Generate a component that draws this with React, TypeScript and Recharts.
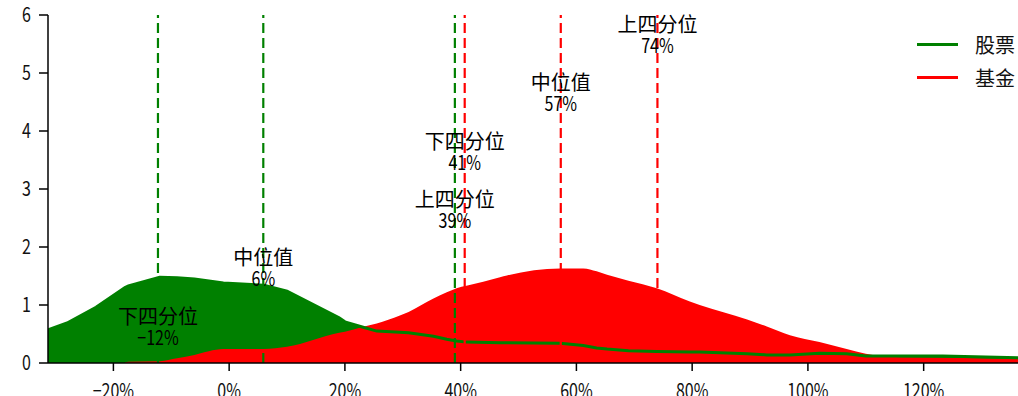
import {
  ComposedChart,
  Area,
  Line,
  XAxis,
  YAxis,
  ReferenceLine,
  ReferenceDot,
} from "recharts";

// return grid (shared by both densities)
const returns = [
  -0.313, -0.28, -0.23, -0.18, -0.174, -0.12, -0.09, -0.06, -0.01, 0.06, 0.1, 0.19, 0.2, 0.23,
  0.255, 0.295, 0.31, 0.353, 0.376, 0.393, 0.41, 0.468, 0.48, 0.572, 0.612, 0.635, 0.653, 0.69,
  0.739, 0.796, 0.813, 0.895, 0.929, 0.969, 1.02, 1.067, 1.1, 1.159, 1.233, 1.363,
];

const stockDensity = [
  0.57, 0.69, 0.96, 1.3, 1.33, 1.48, 1.47, 1.45, 1.38, 1.34, 1.24, 0.78, 0.71, 0.62,
  0.55, 0.53, 0.52, 0.46, 0.41, 0.38, 0.36, 0.35, 0.35, 0.34, 0.3, 0.26, 0.24, 0.21,
  0.2, 0.19, 0.19, 0.16, 0.14, 0.14, 0.17, 0.16, 0.12, 0.12, 0.12, 0.09,
];

const fundDensity = [
  null, null, null, 0.01, 0.02, 0.03, 0.08, 0.14, 0.24, 0.24, 0.28, 0.52, 0.54, 0.62,
  0.68, 0.82, 0.88, 1.11, 1.22, 1.29, 1.33, 1.48, 1.51, 1.63, 1.63, 1.58, 1.52, 1.42,
  1.29, 1.06, 1.0, 0.75, 0.63, 0.48, 0.36, 0.24, 0.16, 0.1, 0.09, 0.07,
];

const xTicks = [-0.2, 0, 0.2, 0.4, 0.6, 0.8, 1.0, 1.2];
const yTicks = [0, 1, 2, 3, 4, 5, 6];

const quartileNames = ["下四分位", "中位值", "上四分位"];
const stockQuartiles = [-0.123, 0.059, 0.39];
const fundQuartiles = [0.407, 0.573, 0.74];
const stockLabelLevels = [0.8, 1.81, 2.81];
const fundLabelLevels = [3.81, 4.82, 5.83];

const legendNames = ["股票", "基金"];

const GREEN = "#008000";
const RED = "#ff0000";
const FONT = '"Noto Sans CJK SC", "Noto Sans", sans-serif';

const data = returns.map((x, i) => ({
  x,
  stock: stockDensity[i],
  fund: fundDensity[i],
}));

const pct = (v: number) => `${Math.round(v * 100)}%`.replace("-", "−");

function XTick({ x, y, payload }: any) {
  return (
    <g transform={`translate(${x},${y}) scale(0.8,1)`}>
      <text x={0} y={0} dy="0.71em" textAnchor="middle" fontSize={20} fontFamily={FONT} fill="#111">
        {pct(payload.value)}
      </text>
    </g>
  );
}

function YTick({ x, y, payload }: any) {
  return (
    <g transform={`translate(${x},${y}) scale(0.8,1)`}>
      <text x={0} y={0} dy="0.355em" textAnchor="end" fontSize={20} fontFamily={FONT} fill="#111">
        {payload.value}
      </text>
    </g>
  );
}

function QuartileLabel(name: string, value: number) {
  return (props: any) => {
    const { cx, cy } = props;
    return (
      <g>
        <text x={cx} y={cy} dy="0.35em" textAnchor="middle" fontSize={20} fontFamily={FONT} fill="#000">
          {name}
        </text>
        <g transform={`translate(${cx},${cy + 21}) scale(0.8,1)`}>
          <text x={0} y={0} dy="0.35em" textAnchor="middle" fontSize={20} fontFamily={FONT} fill="#000">
            {pct(value)}
          </text>
        </g>
      </g>
    );
  };
}

function LegendBox() {
  const colors = [GREEN, RED];
  return (
    <div style={{ position: "absolute", left: 917, top: 28, fontFamily: FONT, fontSize: 20 }}>
      {legendNames.map((name, i) => (
        <div key={name} style={{ display: "flex", alignItems: "center", height: 33 }}>
          <div style={{ width: 41, height: 2.5, background: colors[i], marginRight: 17 }} />
          <span style={{ color: "#111", lineHeight: "33px" }}>{name}</span>
        </div>
      ))}
    </div>
  );
}

export default function App() {
  return (
    <div style={{ position: "absolute", left: 0, top: 0, width: 1018, height: 396, background: "#fff" }}>
      <ComposedChart width={1018} height={396} data={data} margin={{ top: 15, right: 0, bottom: 0, left: 0 }}>
        <XAxis
          dataKey="x"
          type="number"
          domain={[-0.313, 1.363]}
          allowDataOverflow
          ticks={xTicks}
          height={33}
          tick={<XTick />}
          tickSize={8}
          tickMargin={13}
          axisLine={{ stroke: "#000", strokeWidth: 1.5 }}
          tickLine={{ stroke: "#000", strokeWidth: 1.5 }}
        />
        <YAxis
          type="number"
          domain={[0, 6]}
          ticks={yTicks}
          width={48}
          tick={<YTick />}
          tickSize={9}
          tickMargin={8}
          axisLine={{ stroke: "#000", strokeWidth: 1.5 }}
          tickLine={{ stroke: "#000", strokeWidth: 1.5 }}
        />
        <Area
          type="linear"
          dataKey="stock"
          stroke="none"
          fill={GREEN}
          fillOpacity={1}
          isAnimationActive={false}
        />
        <Area
          type="monotone"
          dataKey="fund"
          stroke="none"
          fill={RED}
          fillOpacity={1}
          isAnimationActive={false}
        />
        <Line
          type="linear"
          dataKey="stock"
          stroke={GREEN}
          strokeWidth={3}
          dot={false}
          activeDot={false}
          isAnimationActive={false}
        />
        {stockQuartiles.map((q) => (
          <ReferenceLine key={`s${q}`} x={q} stroke={GREEN} strokeWidth={2.2} strokeDasharray="10 5" />
        ))}
        {fundQuartiles.map((q) => (
          <ReferenceLine key={`f${q}`} x={q} stroke={RED} strokeWidth={2.2} strokeDasharray="10 5" />
        ))}
        {stockQuartiles.map((q, i) => (
          <ReferenceDot
            key={`sl${q}`}
            x={q}
            y={stockLabelLevels[i]}
            r={0}
            shape={QuartileLabel(quartileNames[i], q)}
          />
        ))}
        {fundQuartiles.map((q, i) => (
          <ReferenceDot
            key={`fl${q}`}
            x={q}
            y={fundLabelLevels[i]}
            r={0}
            shape={QuartileLabel(quartileNames[i], q)}
          />
        ))}
      </ComposedChart>
      <LegendBox />
    </div>
  );
}
